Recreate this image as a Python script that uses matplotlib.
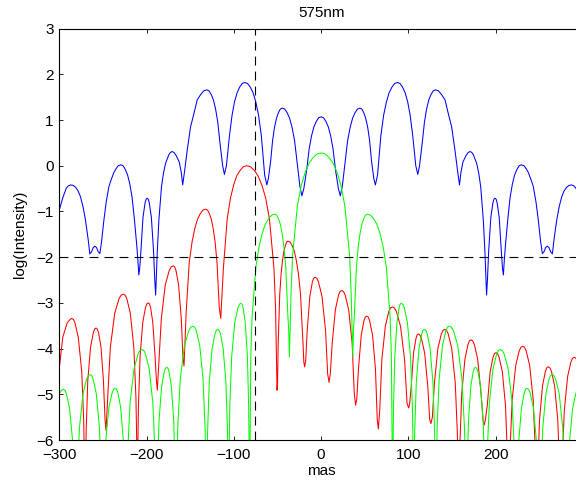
import matplotlib
matplotlib.use('Agg')
import matplotlib.pyplot as plt

plt.rcParams['font.family'] = ['Liberation Sans', 'DejaVu Sans']
plt.rcParams['font.size'] = 11

# blue curve (one row per lobe)
blue_x = [-300, -296, -292, -289.6, -287.1, -284.2, -281.4, -278.5, -275.7, -272.8, -270, -267,
          -265, -263, -261.1, -259.2, -257.3, -255.5, -253.5,
          -251.5, -248.9, -246.3, -243.2, -241.4, -239.5, -237.5, -235.5, -232.5, -229.5, -226.9, -224.4,
          -221.8, -219.2, -216.6, -214.1, -211.2, -210, -208.9,
          -207.9, -206.5, -204.1, -201.7, -200.5, -199.3, -198.1, -196.9, -194.5, -192, -190.6, -189.6,
          -187.8, -185.9, -182.9, -180.7, -178.3, -174.5, -172.7, -170.8, -168.5, -166, -162.5, -160.2, -158.6,
          -156.3, -153.4, -149.6, -146, -142, -137.9, -134.4, -131, -128.5, -126, -123.4, -120.9, -118.4,
          -115.9, -112.8, -110.8,
          -108.5, -105, -102, -99.2, -96.2, -93.3, -90.4, -87.5, -84.3, -81.2, -78, -74.9, -71.7, -68.5,
          -64.7, -62.2,
          -60.4, -57.8, -55.6, -53.4, -51.1, -48.9, -46.7, -44.5, -41.7, -38.9, -36.1, -33.3, -30.4, -27.6,
          -24.3, -22,
          -19.8, -16.5, -13.75, -11, -8.25, -5.5, -2.75, 0, 2.75, 5.5, 8.25, 11, 13.75, 16.5, 19.8, 22,
          24.3, 27.6, 30.4, 33.3, 36.1, 38.9, 41.7, 44.5, 46.7, 48.9, 51.1, 53.4, 55.6, 57.8, 60.4, 62.2,
          64.7, 68.5, 71.7, 74.9, 78, 81.2, 84.3, 87.5, 90.4, 93.3, 96.2, 99.2, 102, 105, 108.5, 110.8,
          112.8, 115.9, 118.4, 120.9, 123.4, 126, 128.5, 131, 134.4, 137.9, 142, 146, 149.6, 153.4, 156.3,
          158.6,
          160.2, 162.5, 166, 168.5, 170.8, 172.7, 174.5, 178.3, 180.7, 182.9, 185.9, 187.8, 189.6,
          190.6, 192, 194.5, 196.9, 198.1, 199.3, 200.5, 201.7, 204.1, 206.5, 207.9, 208.9,
          210, 211.2, 214.1, 216.6, 219.2, 221.8, 224.4, 226.9, 229.5, 232.5, 235.5, 237.5, 239.5, 241.4,
          243.2, 246.3, 248.9, 251.5, 253.5,
          255.5, 257.3, 259.2, 261.1, 263, 265,
          267, 270, 272.8, 275.7, 278.5, 281.4, 284.2, 287.1, 289.6, 292, 296, 300]
blue_y = [-0.97, -0.7, -0.49, -0.44, -0.42, -0.43, -0.47, -0.55, -0.68, -0.9, -1.19, -1.6,
          -1.93, -1.88, -1.79, -1.76, -1.79, -1.88, -1.92,
          -1.65, -1.19, -0.8, -0.46, -0.35, -0.25, -0.15, -0.08, 0.0, 0.02, 0.0, -0.08,
          -0.20, -0.40, -0.69, -1.14, -1.75, -2.05, -2.39,
          -2.25, -1.87, -1.13, -0.81, -0.73, -0.71, -0.73, -0.81, -1.13, -1.87, -2.5, -2.83,
          -1.91, -1.19, -0.46, -0.17, 0.05, 0.24, 0.29, 0.31, 0.29, 0.22, 0.08, -0.15, -0.42,
          -0.1, 0.34, 0.85, 1.12, 1.44, 1.56, 1.64, 1.66, 1.64, 1.56, 1.44, 1.24, 0.95,
          0.50, 0.0, -0.19,
          0.0, 0.66, 1.11, 1.40, 1.60, 1.72, 1.80, 1.82, 1.80, 1.72, 1.60, 1.40, 1.11, 0.66,
          -0.20, -0.42,
          -0.28, 0.10, 0.55, 0.84, 1.04, 1.16, 1.24, 1.26, 1.24, 1.16, 1.04, 0.84, 0.55, 0.10,
          -0.45, -0.66,
          -0.50, -0.09, 0.36, 0.65, 0.85, 0.97, 1.05, 1.07, 1.05, 0.97, 0.85, 0.65, 0.36, -0.09, -0.50, -0.66,
          -0.45, 0.10, 0.55, 0.84, 1.04, 1.16, 1.24, 1.26, 1.24, 1.16, 1.04, 0.84, 0.55, 0.10, -0.28, -0.42,
          -0.20, 0.66, 1.11, 1.40, 1.60, 1.72, 1.80, 1.82, 1.80, 1.72, 1.60, 1.40, 1.11, 0.66, 0.0, -0.19,
          0.0, 0.50, 0.95, 1.24, 1.44, 1.56, 1.64, 1.66, 1.64, 1.56, 1.44, 1.12, 0.85, 0.34, -0.1,
          -0.42,
          -0.15, 0.08, 0.22, 0.29, 0.31, 0.29, 0.24, 0.05, -0.17, -0.46, -1.19, -1.91, -2.83,
          -2.5, -1.87, -1.13, -0.81, -0.73, -0.71, -0.73, -0.81, -1.13, -1.87, -2.25, -2.39,
          -2.05, -1.75, -1.14, -0.69, -0.40, -0.20, -0.08, 0.0, 0.02, 0.0, -0.08, -0.15, -0.25, -0.35,
          -0.46, -0.8, -1.19, -1.65, -1.92,
          -1.88, -1.79, -1.76, -1.79, -1.88, -1.93,
          -1.6, -1.19, -0.9, -0.68, -0.55, -0.47, -0.43, -0.42, -0.44, -0.49, -0.7, -0.97]

# red curve
red_x = [-300, -296, -291, -287.6, -285.8, -283.9, -282, -278.2, -274.3, -272, -271.3, -270.5,
         -269.9, -269.2, -267.4, -264.2, -261, -259.5, -257.9, -256.5, -255, -252.2, -249.4, -247.6, -246.5,
         -244.5, -241.5, -236.5, -231.6, -229.1, -226.6, -224.6, -222.6, -218.6, -214.6, -212.2, -211.4, -210.6,
         -210, -209.3, -207.4, -204.3, -201.2, -199.6, -198, -196.7, -195.4, -192.9, -190.3, -188.7, -187.7,
         -185.9, -183.1, -178.6, -174, -171.7, -169.4, -167.9, -166.3, -163.3, -160.2, -158.3, -157.1,
         -154.6, -151.1, -147.8, -144.7, -141.6, -138.5, -135.4, -132.3, -130.1, -128, -125.8, -123.7,
         -121.5, -119.3, -116.7, -115,
         -112, -107.6, -103.9, -100.2, -96.7, -92.7, -89, -85.3, -81, -76.6, -72.3, -67.9, -63.5, -59.2,
         -54, -52.2, -50.5,
         -49.9, -49.2, -47.4, -45.8, -44.2, -42.6, -41, -39.5, -37.9, -35.5, -33.1, -30.7, -28.4, -26,
         -23.6, -20.7, -19.8, -18.8,
         -17.6, -15.9, -12.9, -10, -8.5, -7, -5, -3, 1.05, 5.1, 7.5, 9.1,
         10.55, 12.7, 16.35, 20, 21.8, 23.6, 25.6, 27.6, 31.6, 35.6, 38, 39.6,
         40.9, 42.8, 46, 49.1, 50.7, 52.3, 54, 55.6, 59, 62.3, 64.3, 65.6,
         67.2, 69.6, 73.6, 77.6, 79.6, 81.6, 83.9, 86.3, 91, 95.7, 98.5, 100.4,
         101.5, 103.2, 105.9, 108.7, 110, 111.4, 113.2, 115, 118.7, 122.3, 124.4, 125.9,
         127.5, 129.9, 133.8, 137.8, 139.7, 141.7, 143.7, 145.7, 149.7, 153.7, 156.1, 156.9, 157.7,
         158.4, 159.1, 161.2, 164.8, 168.3, 170, 171.8, 173.7, 175.6, 179.4, 183.2, 185.5, 187,
         188.3, 190.4, 193.7, 197, 198.7, 200.4, 202.2, 204, 207.7, 211.3, 213.5, 214.2, 214.9,
         215.7, 216.5, 219, 223, 227, 229, 231, 233, 235, 239, 243, 245.4, 246.2, 247,
         247.7, 248.3, 250.3, 253.7, 257, 258.6, 260.3, 262.1, 264, 267.6, 271.2, 273.4, 274.9,
         275.7, 276.4, 278.7, 282.5, 286.3, 288.2, 290.1, 292, 294, 300]
red_y = [-4.43, -3.75, -3.44, -3.36, -3.34, -3.36, -3.44, -3.76, -4.50, -5.59, -6.44, -7.5,
         -6.65, -5.8, -4.71, -3.97, -3.65, -3.57, -3.55, -3.57, -3.65, -3.97, -4.71, -5.55, -5.79,
         -5.06, -3.97, -3.23, -2.91, -2.83, -2.81, -2.83, -2.91, -3.23, -3.97, -5.06, -5.91, -7.5,
         -6.1, -5.25, -4.16, -3.42, -3.1, -3.02, -3.0, -3.02, -3.1, -3.42, -4.16, -4.7, -4.91,
         -4.3, -3.35, -2.61, -2.29, -2.21, -2.19, -2.21, -2.29, -2.61, -3.35, -4.2, -4.38,
         -3.2, -2.11, -1.66, -1.37, -1.17, -1.05, -0.97, -0.95, -0.97, -1.05, -1.17, -1.37,
         -1.66, -2.11, -3.1, -3.34,
         -2.25, -1.16, -0.71, -0.42, -0.22, -0.10, -0.02, 0.0, -0.02, -0.10, -0.22, -0.42, -0.71, -1.16,
         -2.25, -3.1, -4.91,
         -4.75, -3.9, -2.81, -2.36, -2.07, -1.87, -1.75, -1.67, -1.65, -1.67, -1.75, -1.87, -2.07, -2.36,
         -2.81, -3.9, -4.3, -4.4,
         -4.25, -3.6, -2.86, -2.54, -2.46, -2.44, -2.46, -2.54, -2.86, -3.6, -4.55, -4.74,
         -4.55, -3.89, -3.15, -2.83, -2.75, -2.73, -2.75, -2.83, -3.15, -3.89, -4.98, -5.24,
         -5.1, -4.45, -3.71, -3.39, -3.31, -3.29, -3.31, -3.39, -3.71, -4.45, -5.54, -5.76,
         -5.34, -4.25, -3.51, -3.19, -3.11, -3.09, -3.11, -3.19, -3.51, -4.25, -5.2, -5.3,
         -5.2, -4.84, -4.1, -3.78, -3.70, -3.68, -3.70, -3.78, -4.1, -4.84, -5.55, -5.64,
         -5.5, -4.74, -4.0, -3.68, -3.60, -3.58, -3.60, -3.68, -4.0, -4.74, -5.83, -6.68, -7.5,
         -6.9, -6.06, -4.97, -4.23, -3.91, -3.83, -3.81, -3.83, -3.91, -4.23, -4.97, -5.55, -5.67,
         -5.55, -5.25, -4.51, -4.19, -4.11, -4.09, -4.11, -4.19, -4.51, -5.25, -6.34, -7.0, -7.5,
         -7.05, -6.2, -5.11, -4.37, -4.05, -3.97, -3.95, -3.97, -4.05, -4.37, -5.11, -6.2, -7.05, -7.5,
         -7.5, -6.65, -5.56, -4.82, -4.5, -4.42, -4.4, -4.42, -4.5, -4.82, -5.56, -6.65, -7.5,
         -7.3, -6.44, -5.35, -4.61, -4.29, -4.21, -4.19, -4.21, -4.29, -4.7]

# green curve
green_x = [-300, -297.2, -295.4, -293.6, -291.8, -288.2, -284.6, -282.4,
           -281, -279.4, -276.9, -272.85, -268.8, -266.7, -264.7, -262.9, -261.15, -257.6, -254, -251.9,
           -250.5, -249, -246.85, -243.2, -239.55, -237.7, -235.9, -234.3, -232.8, -229.65, -226.5, -224.65,
           -223.4, -222.5, -221.6, -218.9, -214.35, -209.8, -207.6, -205.3, -203.2, -201.15, -197, -192.85,
           -190.35, -189.5,
           -188.7, -187.5, -185.7, -182.75, -179.8, -178.3, -176.8, -175.5, -174.2, -171.55, -168.9,
           -167.35, -166.8,
           -166.3, -165.3, -164.35, -161.4, -156.55, -151.7, -149.2, -146.8, -144.9, -143, -139.1, -135.3,
           -132.9, -132.2,
           -131.4, -130.75, -130.1, -128.15, -124.9, -121.65, -120, -118.4, -116.9, -115.3, -112.2, -109.1,
           -107.2, -106.6,
           -106, -105.3, -104.6, -102.45, -98.9, -95.35, -93.6, -91.8, -90.6, -89.35, -86.9, -84.45, -83,
           -82.5,
           -82, -80.55, -79.1, -74.75, -71.1, -67.5, -63.9, -60.25, -56.6, -53, -50.9, -48.8, -46.7, -44.65,
           -42.6, -40.5, -38, -37.1,
           -36.3, -34.5, -32.7, -27.2, -22.7, -18.2, -13.6, -9.1, -4.5, 0, 4.5, 9.1, 13.6, 18.2, 22.7,
           27.2, 32.7, 34.5, 36.3,
           37.1, 38, 40.5, 42.6, 44.65, 46.7, 48.8, 50.9, 53, 56.6, 60.25, 63.9, 67.5, 71.1, 74.75, 79.1,
           80.55, 82,
           82.5, 83, 84.45, 86.9, 89.35, 90.6, 91.8, 93.6, 95.35, 98.9, 102.45, 104.6, 105.3, 106,
           106.6, 107.2, 109.1, 112.2, 115.3, 116.9, 118.4, 120, 121.65, 124.9, 128.15, 130.1, 130.75, 131.4,
           132.2, 132.9, 135.3, 139.1, 143, 144.9, 146.8, 149.2, 151.7, 156.55, 161.4, 164.35, 165.3, 166.3,
           166.8, 167.35, 168.9, 171.55, 174.2, 175.5, 176.8, 178.3, 179.8, 182.75, 185.7, 187.5, 188.7,
           189.5, 190.35, 192.85, 197, 201.15, 203.2, 205.3, 207.6, 209.8, 214.35, 218.9, 221.6, 222.5, 223.4,
           224.65, 226.5, 229.65, 232.8, 234.3, 235.9, 237.7, 239.55, 243.2, 246.85, 249, 250.5,
           251.9, 254, 257.6, 261.15, 262.9, 264.7, 266.7, 268.8, 272.85, 276.9, 279.4, 281,
           282.4, 284.6, 288.2, 291.8, 293.6, 295.4, 297.2, 300]
green_y = [-4.98, -4.91, -4.89, -4.91, -4.99, -5.31, -6.05, -7.14,
           -7.8, -6.82, -5.73, -4.99, -4.67, -4.59, -4.57, -4.59, -4.67, -4.99, -5.73, -6.82,
           -7.8, -7.12, -6.03, -5.29, -4.97, -4.89, -4.87, -4.89, -4.97, -5.29, -6.03, -7.12,
           -7.5, -7.12, -6.27, -5.18, -4.44, -4.12, -4.04, -4.02, -4.04, -4.12, -4.44, -5.18,
           -6.27, -7.12,
           -7.5, -6.66, -5.57, -4.83, -4.51, -4.43, -4.41, -4.43, -4.51, -4.83, -5.57,
           -6.66, -7.5,
           -7.5, -6.61, -5.76, -4.67, -3.93, -3.61, -3.53, -3.51, -3.53, -3.61, -3.93, -4.67,
           -5.76, -6.61,
           -7.5, -6.68, -5.83, -4.74, -4.0, -3.68, -3.60, -3.58, -3.60, -3.68, -4.0, -4.74,
           -5.83, -6.68,
           -7.5, -6.11, -5.26, -4.17, -3.43, -3.11, -3.03, -3.01, -3.03, -3.11, -3.43, -4.17, -5.26,
           -6.11,
           -7.5, -4.16, -3.31, -2.22, -1.77, -1.48, -1.28, -1.16, -1.08, -1.06, -1.08, -1.16, -1.28, -1.48,
           -1.77, -2.22, -3.31, -3.6,
           -4.18, -2.82, -1.97, -0.88, -0.43, -0.14, 0.06, 0.18, 0.26, 0.28, 0.26, 0.18, 0.06, -0.14, -0.43,
           -0.88, -1.97, -2.82, -4.18,
           -3.6, -3.31, -2.22, -1.77, -1.48, -1.28, -1.16, -1.08, -1.06, -1.08, -1.16, -1.28, -1.48, -1.77, -2.22, -3.31,
           -4.16, -7.5,
           -6.11, -5.26, -4.17, -3.43, -3.11, -3.03, -3.01, -3.03, -3.11, -3.43, -4.17, -5.26, -6.11, -7.5,
           -6.68, -5.83, -4.74, -4.0, -3.68, -3.60, -3.58, -3.60, -3.68, -4.0, -4.74, -5.83, -6.68, -7.5,
           -6.61, -5.76, -4.67, -3.93, -3.61, -3.53, -3.51, -3.53, -3.61, -3.93, -4.67, -5.76, -6.61, -7.5,
           -7.5, -6.66, -5.57, -4.83, -4.51, -4.43, -4.41, -4.43, -4.51, -4.83, -5.57, -6.66, -7.5,
           -7.12, -6.27, -5.18, -4.44, -4.12, -4.04, -4.02, -4.04, -4.12, -4.44, -5.18, -6.27, -7.12, -7.5,
           -7.12, -6.03, -5.29, -4.97, -4.89, -4.87, -4.89, -4.97, -5.29, -6.03, -7.12, -7.8,
           -6.82, -5.73, -4.99, -4.67, -4.59, -4.57, -4.59, -4.67, -4.99, -5.73, -6.82, -7.8,
           -7.14, -6.05, -5.31, -4.99, -4.91, -4.89, -4.91, -4.98]

marker_x = -75.5      # vertical dashed line
level_y = -2          # horizontal dashed line
x_ticks = [-300, -200, -100, 0, 100, 200]
y_ticks = [-6, -5, -4, -3, -2, -1, 0, 1, 2, 3]

fig = plt.figure(figsize=(5.76, 4.87), dpi=100)
# axes run a little past the right edge of the image, like the original crop
ax = fig.add_axes([59.3 / 576, 47 / 487, 523.6 / 576, 411.4 / 487])

ax.plot(blue_x, blue_y, color='#0000ff', lw=0.75)
ax.plot(red_x, red_y, color='#ff0000', lw=0.75)
ax.plot(green_x, green_y, color='#00ff00', lw=0.75)
ax.axvline(marker_x, color='k', lw=0.8, dashes=(8, 5.5))
ax.axhline(level_y, color='k', lw=0.8, dashes=(8, 5.5))

ax.set_xlim(-300, 300)
ax.set_ylim(-6, 3)
ax.set_xticks(x_ticks)
ax.set_yticks(y_ticks)
ax.tick_params(direction='in', top=True, right=True, length=3.2, width=0.6)
ax.tick_params(axis='x', pad=6)
ax.tick_params(axis='y', pad=4)
for s in ax.spines.values():
    s.set_linewidth(0.8)

ax.set_title('575nm', fontsize=11, pad=8)
ax.set_xlabel('mas')
ax.set_ylabel('log(Intensity)')
ax.xaxis.set_label_coords(0.5, -0.058)
ax.yaxis.set_label_coords(-0.062, 0.5)

fig.savefig('out.png', dpi=100)
